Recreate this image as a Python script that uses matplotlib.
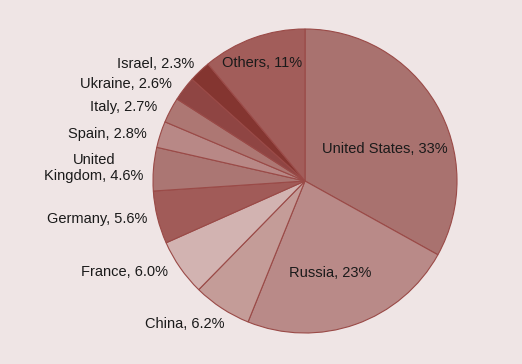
import matplotlib
matplotlib.use("Agg")
import matplotlib.pyplot as plt
import numpy as np

countries = ["United States", "Russia", "China", "France", "Germany",
             "United\nKingdom", "Spain", "Italy", "Ukraine", "Israel", "Others"]
shares = [33, 23, 6.2, 6.0, 5.6, 4.6, 2.8, 2.7, 2.6, 2.3, 11]
share_text = ["33%", "23%", "6.2%", "6.0%", "5.6%", "4.6%", "2.8%", "2.7%", "2.6%", "2.3%", "11%"]
colors = ["#a9726f", "#b98a88", "#c49c98", "#d2b3b1", "#a15b58", "#ab7673",
          "#b88886", "#ad7773", "#8f4543", "#843530", "#a25d5a"]

# label radius (fraction of pie radius) for labels drawn inside the wedges
inside = {"United States": 0.54, "Russia": 0.63, "Others": 0.84}
# small pixel nudges (x right, y down) to match the reference layout
nudge_px = {"United States": (9.5, 10), "Russia": (-6.5, 2), "Others": (0, 2),
            "China": (9, 7), "France": (-3, -2), "Germany": (0, -1),
            "United\nKingdom": (1, 0), "Spain": (-3, 3), "Italy": (-4, 2),
            "Ukraine": (-4, 2), "Israel": (2, 0)}

plt.rcParams['font.family'] = ['Liberation Sans', 'DejaVu Sans']

PX = 152.0  # pixels per unit of pie radius
fig = plt.figure(figsize=(5.22, 3.64), dpi=100)
fig.patch.set_facecolor("#efe5e5")
ax = fig.add_axes([0, 0, 1, 1])
ax.set_facecolor("#efe5e5")

wedges, _ = ax.pie(shares, colors=colors, startangle=90, counterclock=False,
                   wedgeprops=dict(edgecolor="#9a4a47", linewidth=0.8))

for w, c, t in zip(wedges, countries, share_text):
    ang = np.deg2rad((w.theta1 + w.theta2) / 2)
    dx, dy = nudge_px.get(c, (0, 0))
    if c in inside:
        r = inside[c]
        ha = "center"
    else:
        r = 1.07
        ha = "left" if np.cos(ang) > 0 else "right"
    x = r * np.cos(ang) + dx / PX
    y = r * np.sin(ang) - dy / PX
    ax.text(x, y, f"{c}, {t}", ha=ha, va="center", multialignment="center",
            fontsize=10.5, color="#1a1a1a")

ax.set_xlim(-305 / PX, (522 - 305) / PX)
ax.set_ylim(-(364 - 181) / PX, 181 / PX)
ax.set_aspect("auto")
ax.axis("off")

fig.savefig("out.png", dpi=100, facecolor=fig.get_facecolor())
